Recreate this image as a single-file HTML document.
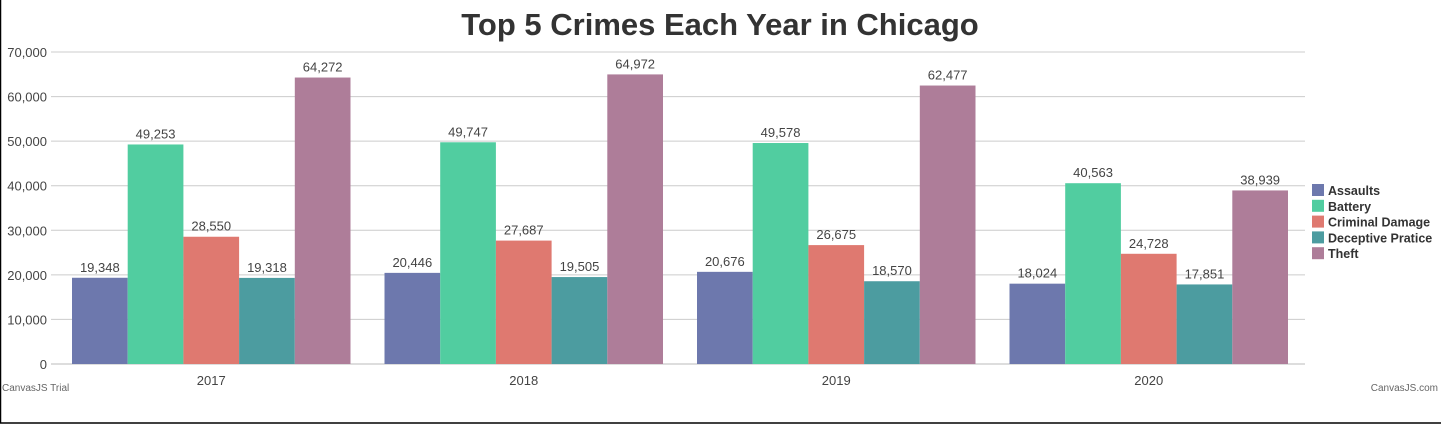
<!DOCTYPE html>
<html><head><meta charset="utf-8"><style>
html,body{margin:0;padding:0;background:#fff}
svg{display:block;font-family:"Liberation Sans",sans-serif}
</style></head><body>
<svg id="chart" width="1441" height="424" viewBox="0 0 1441 424">
<rect x="0.5" y="-1" width="1445" height="424" fill="#fff" stroke="#000" stroke-width="1.5"/>
<text x="720" y="35" text-anchor="middle" font-size="31" font-weight="bold" fill="#333">Top 5 Crimes Each Year in Chicago</text>
<g id="grid"></g><g id="bars"></g><g id="legend"></g>
<text x="2" y="391" font-size="10" fill="#666">CanvasJS Trial</text>
<text x="1438" y="391" font-size="10" fill="#666" text-anchor="end">CanvasJS.com</text>
</svg>
<script>
const categories = ["2017","2018","2019","2020"];
const seriesNames = ["Assaults","Battery","Criminal Damage","Deceptive Pratice","Theft"];
const assaults = [19348,20446,20676,18024];
const battery = [49253,49747,49578,40563];
const criminalDamage = [28550,27687,26675,24728];
const deceptive = [19318,19505,18570,17851];
const theft = [64272,64972,62477,38939];
const yTicks = [0,10000,20000,30000,40000,50000,60000,70000];
const colors = ["#6d78ad","#51cda0","#df7970","#4c9ca0","#ae7d99"];
const series = [assaults,battery,criminalDamage,deceptive,theft];
const NS="http://www.w3.org/2000/svg";
const L=55,R=1305,T=52,B=364,YMAX=70000;
const y=v=>B-(v/YMAX)*(B-T);
const cw=(R-L)/categories.length, pad=17, bw=(cw-2*pad)/series.length;
const fmt=v=>v.toLocaleString("en-US");
function mk(tag,attrs,parent,txt){const e=document.createElementNS(NS,tag);for(const k in attrs)e.setAttribute(k,attrs[k]);if(txt!=null)e.textContent=txt;parent.appendChild(e);return e;}
const grid=document.getElementById("grid");
yTicks.forEach(t=>{
  const ln=mk("line",{x1:L-4,x2:R,y1:y(t),y2:y(t),stroke:t===0?"#bbb":"#ccc","stroke-width":1},grid);
  
  
  const tx=mk("text",{x:47,y:y(t)+5,"text-anchor":"end","font-size":13,fill:"#444"},grid,fmt(t));
  
  
});
const bars=document.getElementById("bars");
categories.forEach((c,i)=>{
  const x0=L+i*cw;
  const lab=mk("text",{x:x0+cw/2,y:B+21,"text-anchor":"middle","font-size":13,fill:"#444"},grid,c);
  
  
  series.forEach((s,j)=>{
    const bx=x0+pad+j*bw;
    const r=mk("rect",{x:bx,y:y(s[i]),width:bw,height:B-y(s[i]),fill:colors[j]},bars);
    
    
    const t=mk("text",{x:bx+bw/2,y:y(s[i])-6,"text-anchor":"middle","font-size":13,fill:"#444"},bars,fmt(s[i]));
    
    
  });
});
const lg=document.getElementById("legend");
seriesNames.forEach((n,j)=>{
  const yy=184+j*15.8;
  const sw=mk("rect",{x:1312,y:yy,width:12,height:12,fill:colors[j]},lg);
  
  
  const t=mk("text",{x:1328,y:yy+11,"font-size":12.5,"font-weight":"bold",fill:"#333"},lg,n);
  
  
});
</script>
</body></html>
